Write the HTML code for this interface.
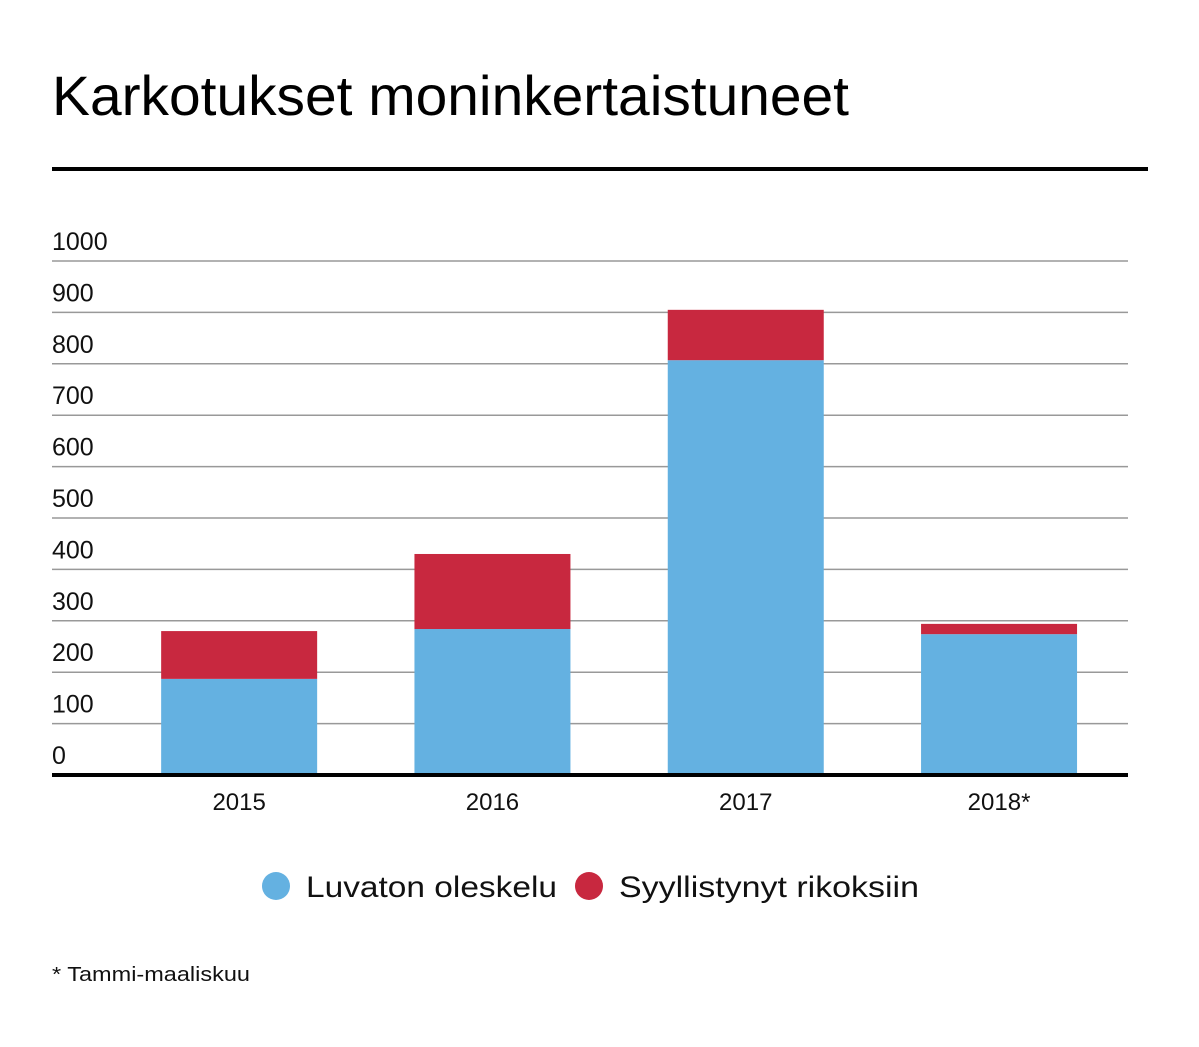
<!DOCTYPE html>
<html><head><meta charset="utf-8"><style>
body{margin:0;width:1199px;height:1042px;background:#fff;font-family:"Liberation Sans",sans-serif;overflow:hidden}
</style></head><body>
<svg width="1199" height="1042">
<text x="52" y="115" font-size="56" fill="#000" style="font-family:'Liberation Sans Narrow','Liberation Sans',sans-serif" textLength="797" lengthAdjust="spacingAndGlyphs">Karkotukset moninkertaistuneet</text>
<rect x="52" y="167" width="1096" height="4" fill="#000"/>
<g id="grid"></g><g id="bars"></g><g id="xl"></g>
<rect x="52" y="773" width="1076" height="4" fill="#000"/>
<circle cx="276" cy="886" r="14" fill="#64b1e1"/>
<text x="306" y="897" font-size="30" fill="#111" textLength="251" lengthAdjust="spacingAndGlyphs">Luvaton oleskelu</text>
<circle cx="589" cy="886" r="14" fill="#c8283f"/>
<text x="619" y="897" font-size="30" fill="#111" textLength="300" lengthAdjust="spacingAndGlyphs">Syyllistynyt rikoksiin</text>
<text x="52" y="981" font-size="20" fill="#111" textLength="198" lengthAdjust="spacingAndGlyphs">* Tammi-maaliskuu</text>
</svg>
<script>
const categories=["2015","2016","2017","2018*"];
const luvaton=[187,284,807,274];
const rikokset=[93,146,98,20];
const ticks=[0,100,200,300,400,500,600,700,800,900,1000];
const NS="http://www.w3.org/2000/svg";
const y=v=>775-v*0.514;
const x0=112.5,slot=253.3,bw=156;
const cx=i=>x0+slot*(i+0.5);
function mk(t,a,p){const e=document.createElementNS(NS,t);for(const k in a)e.setAttribute(k,a[k]);p.appendChild(e);return e;}
const g=document.getElementById('grid');
ticks.forEach(t=>{
 if(t>0){const l=mk('line',{x1:52,x2:1128,y1:y(t),y2:y(t),stroke:'#999','stroke-width':1.5},g);
 
 }
 const tx=mk('text',{x:52,y:y(t)-11,'font-size':25,fill:'#111'},g);tx.textContent=t;
 
 
});
const b=document.getElementById('bars'),xl=document.getElementById('xl');
categories.forEach((c,i)=>{
 const c0=cx(i);
 const r1=mk('rect',{x:c0-bw/2,y:y(luvaton[i]),width:bw,height:y(0)-y(luvaton[i]),fill:'#64b1e1'},b);
 
 
 const tot=luvaton[i]+rikokset[i];
 const r2=mk('rect',{x:c0-bw/2,y:y(tot),width:bw,height:y(luvaton[i])-y(tot),fill:'#c8283f'},b);
 
 
 const t=mk('text',{x:c0,y:810,'font-size':24,fill:'#111','text-anchor':'middle'},xl);t.textContent=c;
 
 
});
</script>
</body></html>
